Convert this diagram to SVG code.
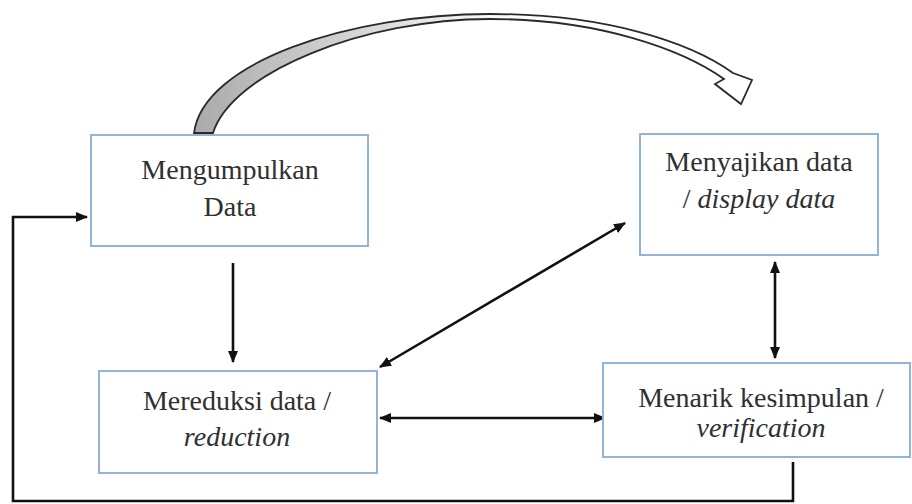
<svg xmlns="http://www.w3.org/2000/svg" width="912" height="504" viewBox="0 0 912 504">
  <style>
    .box { fill: #ffffff; stroke: #93b3d8; stroke-width: 2; }
    .label { font-family: "Liberation Serif", "DejaVu Serif", serif; font-size: 28px; fill: #303030; text-anchor: middle; }
    .it { font-style: italic; }
    .line { fill: none; stroke: #111111; stroke-width: 2.6; }
    .head { fill: #111111; }
  </style>
  <defs>
    <marker id="arrow" viewBox="0 0 12 10" refX="11" refY="5" markerWidth="12" markerHeight="10" markerUnits="userSpaceOnUse" orient="auto-start-reverse">
      <path class="head" d="M0,0 L12,5 L0,10 Z"/>
    </marker>
    <linearGradient id="bandFill" x1="190" y1="0" x2="520" y2="0" gradientUnits="userSpaceOnUse">
      <stop offset="0" stop-color="#a9a9a9"/>
      <stop offset="0.35" stop-color="#c8c8c8"/>
      <stop offset="1" stop-color="#ffffff"/>
    </linearGradient>
  </defs>

  <rect x="0" y="0" width="912" height="504" fill="#ffffff"/>

  <!-- curved block arrow from collecting to display -->
  <g id="curved-arrow">
    <path d="M194,133 C203,62 350,14 490,14 C605,14 690,42 733,73 L752,80 L741,104 L715,84 L724,79 C683,50 600,19 490,19 C365,19 232,72 213,133 Z"
          fill="url(#bandFill)" stroke="#2a2a2a" stroke-width="1.8" stroke-linejoin="miter"/>
  </g>

  <g id="connectors">
    <!-- collecting -> reduction -->
    <line class="line" x1="233" y1="263" x2="233" y2="362" marker-end="url(#arrow)"/>
    <!-- reduction <-> display -->
    <line class="line" x1="380" y1="367" x2="625" y2="223" marker-start="url(#arrow)" marker-end="url(#arrow)"/>
    <!-- reduction <-> conclusion -->
    <line class="line" x1="380" y1="418" x2="605" y2="418" marker-start="url(#arrow)" marker-end="url(#arrow)"/>
    <!-- display <-> conclusion -->
    <line class="line" x1="775" y1="262" x2="775" y2="358" marker-start="url(#arrow)" marker-end="url(#arrow)"/>
    <!-- feedback loop back to collecting -->
    <polyline class="line" stroke-width="3" points="793,462 793,501 13,501 13,217 87,217" marker-end="url(#arrow)"/>
  </g>

  <g id="node-mengumpulkan">
    <rect class="box" x="91" y="135" width="277" height="111"/>
    <text class="label" x="230" y="179">Mengumpulkan</text>
    <text class="label" x="230" y="216">Data</text>
  </g>

  <g id="node-menyajikan">
    <rect class="box" x="640" y="134" width="238" height="121"/>
    <text class="label" x="759" y="171">Menyajikan data</text>
    <text class="label" x="759" y="208">/ <tspan class="it">display data</tspan></text>
  </g>

  <g id="node-mereduksi">
    <rect class="box" x="99" y="371" width="278" height="102"/>
    <text class="label" x="237" y="410">Mereduksi data /</text>
    <text class="label it" x="237" y="446">reduction</text>
  </g>

  <g id="node-menarik">
    <rect class="box" x="603" y="363" width="307" height="94"/>
    <text class="label" x="761" y="407">Menarik kesimpulan /</text>
    <text class="label it" x="761" y="437">verification</text>
  </g>
</svg>
